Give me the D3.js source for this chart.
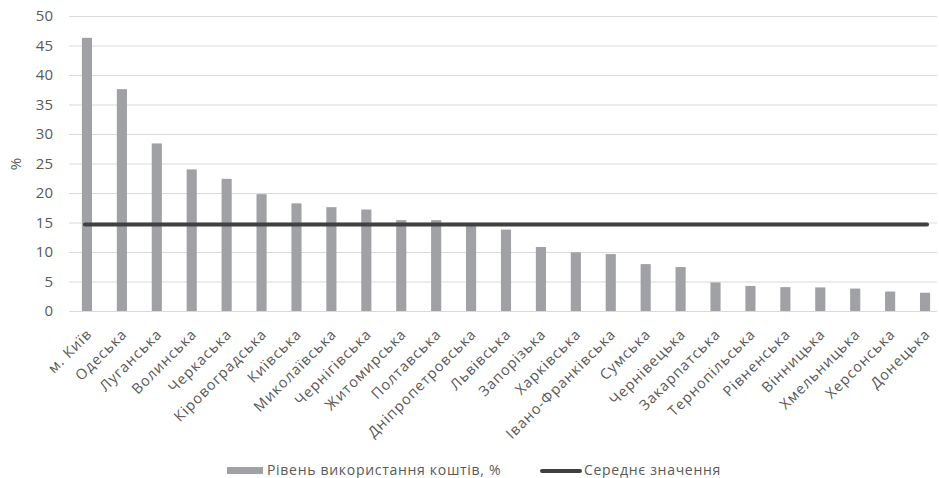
<!DOCTYPE html>
<html><head><meta charset="utf-8">
<script src="https://cdn.jsdelivr.net/npm/d3@7"></script>
<style>body{margin:0;background:#fff}svg{display:block}text{font-family:"Open Sans",sans-serif;fill:#595959}</style>
</head><body><svg id="c" width="939" height="478"></svg>
<script>
const categories = ["м. Київ","Одеська","Луганська","Волинська","Черкаська","Кіровоградська","Київська","Миколаївська","Чернігівська","Житомирська","Полтавська","Дніпропетровська","Львівська","Запорізька","Харківська","Івано-Франківська","Сумська","Чернівецька","Закарпатська","Тернопільська","Рівненська","Вінницька","Хмельницька","Херсонська","Донецька"];
const usage = [46.3,37.6,28.4,24.0,22.4,19.8,18.25,17.6,17.2,15.4,15.4,14.8,13.8,10.85,9.95,9.65,7.95,7.45,4.85,4.25,4.05,4.0,3.8,3.3,3.1];
const average = 14.66;
const yTicks = [0,5,10,15,20,25,30,35,40,45,50];
const seriesNames = ["Рівень використання коштів, %","Середнє значення"];

const svg = d3.select("#c");
const x = d3.scaleBand().domain(categories).range([69.5,942.5]).paddingInner(0.71).paddingOuter(0.355);
const y = d3.scaleLinear().domain([0,50]).range([311,16]);

// gridlines
svg.append("g").selectAll("line").data(yTicks).join("line")
  .attr("x1",69).attr("x2",937).attr("y1",d=>y(d)+0.5).attr("y2",d=>y(d)+0.5)
  .attr("stroke","#d9d9d9").attr("stroke-width",1);

// y axis labels
const ya = svg.append("g").attr("transform","translate(53,0)")
  .call(d3.axisLeft(y).tickValues(yTicks).tickSize(0).tickPadding(0));
ya.select(".domain").remove();
ya.selectAll("text").style("font-size","15px").style("font-family","Open Sans").attr("fill","#595959");

svg.append("text").attr("transform","translate(21,164) rotate(-90)")
  .attr("text-anchor","middle").style("font-size","15px").text("%");

// bars
svg.append("g").selectAll("rect").data(usage).join("rect")
  .attr("x",(d,i)=>x(categories[i])).attr("width",x.bandwidth())
  .attr("y",d=>y(d)).attr("height",d=>y(0)-y(d)).attr("fill","#a0a1a5");

// average line
const cx = c => x(c)+x.bandwidth()/2;
svg.append("line").attr("x1",cx(categories[0])-2).attr("x2",cx(categories[categories.length-1])+2)
  .attr("y1",y(average)).attr("y2",y(average))
  .attr("stroke","#404040").attr("stroke-width",4).attr("stroke-linecap","round");

// x labels
const xa = svg.append("g").attr("transform","translate(0,311)")
  .call(d3.axisBottom(x).tickSize(0).tickPadding(0));
xa.select(".domain").remove();
xa.selectAll("text").attr("text-anchor","end").attr("dy",null).attr("y",null)
  .attr("transform","translate(6,24) rotate(-45)")
  .style("font-size","14.5px").style("letter-spacing","1px").style("font-family","Open Sans").attr("fill","#595959");

// legend
const lg = svg.append("g");
lg.append("rect").attr("x",227).attr("y",467).attr("width",36).attr("height",7).attr("fill","#a0a1a5");
lg.append("text").attr("x",267).attr("y",474.5).style("font-size","14px").style("letter-spacing","0.7px").text(seriesNames[0]);
lg.append("line").attr("x1",542).attr("x2",580).attr("y1",471).attr("y2",471)
  .attr("stroke","#404040").attr("stroke-width",4).attr("stroke-linecap","round");
lg.append("text").attr("x",584).attr("y",474.5).style("font-size","14px").style("letter-spacing","0.7px").text(seriesNames[1]);
</script></body></html>
